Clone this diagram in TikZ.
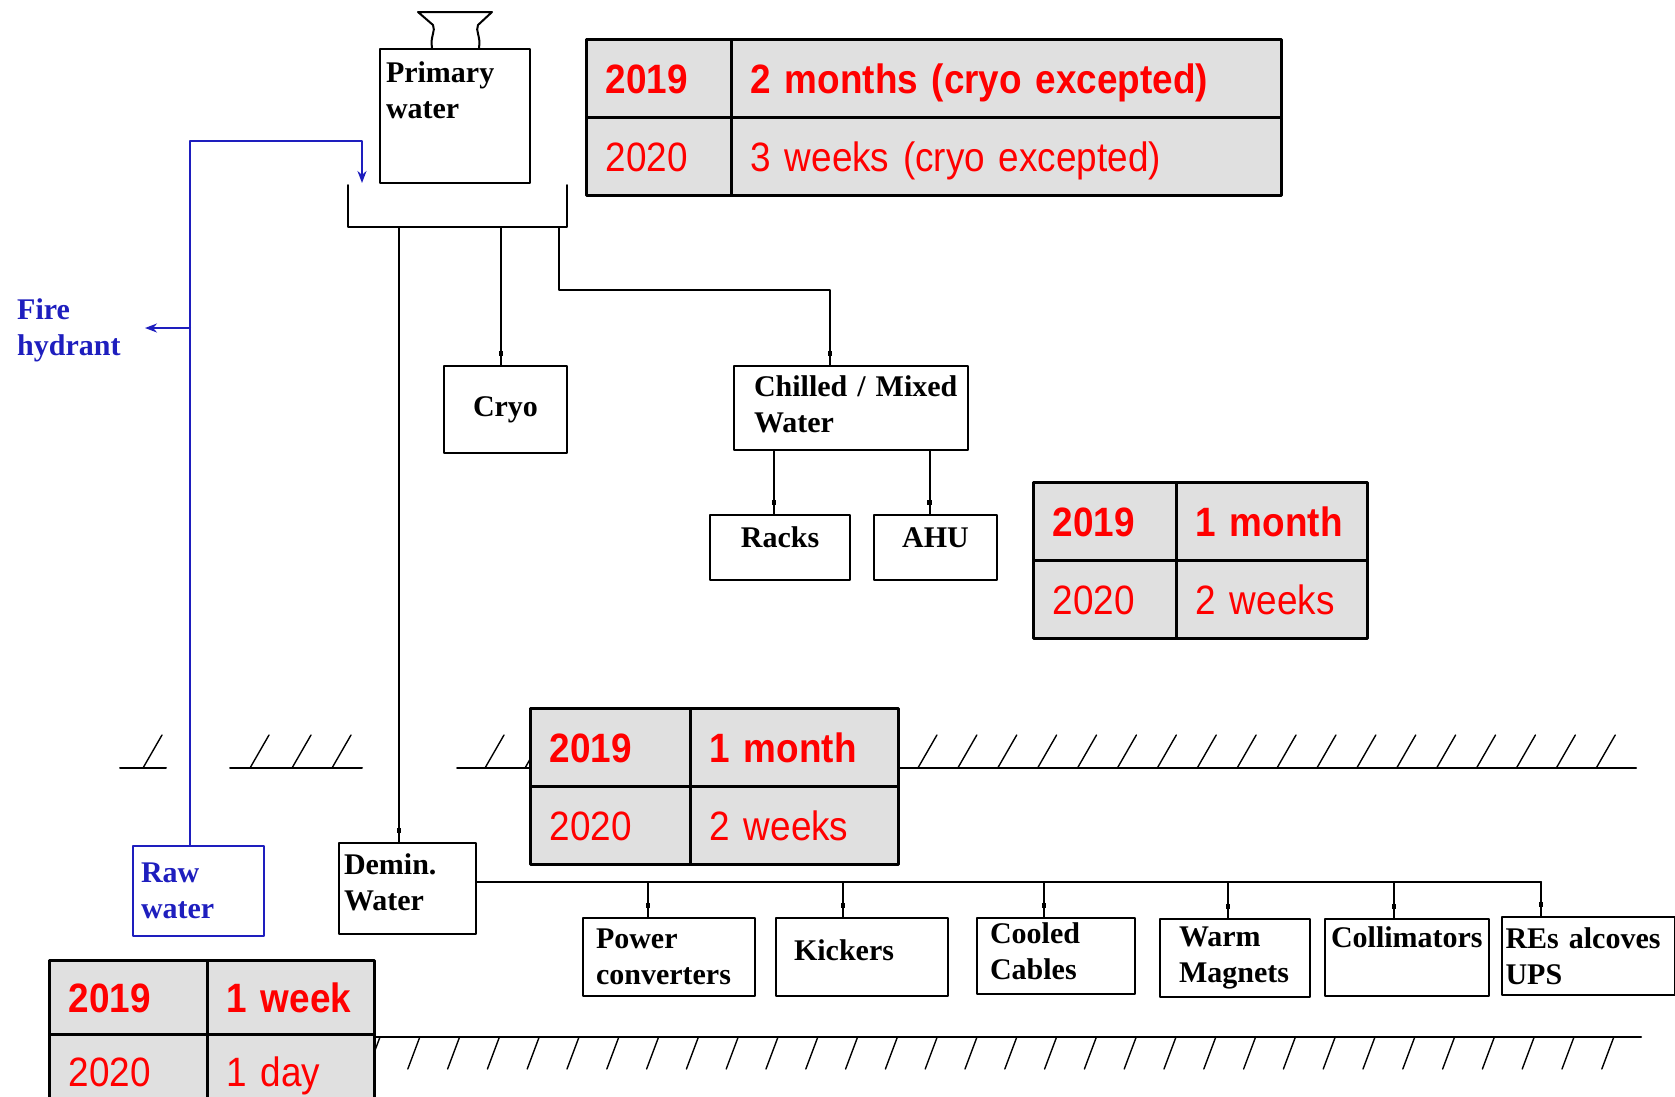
\documentclass[tikz,border=0pt]{standalone}
\usepackage{fontspec}
\setmainfont{Liberation Serif}
\newfontfamily\tabfont{Liberation Sans}[FakeStretch=0.9, WordSpace=0.8]
\usetikzlibrary{matrix,arrows.meta,decorations.markings}
\definecolor{tabgray}{RGB}{224,224,224}
\definecolor{rawblue}{RGB}{30,30,190}
\hyphenpenalty=10000
\newcommand{\boxfont}{\bfseries\fontsize{30}{36}\selectfont}
\newcommand{\durfont}{\tabfont\fontsize{41}{48}\selectfont}
\tikzset{
  unit/.style n args={3}{draw, line width=2pt, anchor=north west, inner ysep=0pt,
    inner xsep=#1, text width=#2, minimum height=#3, align=left, font=\boxfont},
  pipe/.style={line width=2pt, postaction={decorate}, decoration={markings,
    mark=at position -12pt with {\fill (-2.5,-2.2) rectangle (2.5,2.2);}}},
  bluepipe/.style={line width=2pt, draw=rawblue, -{Stealth[length=12pt,width=9pt]}},
  ground/.style={line width=2pt},
  hatch/.style={line width=1.4pt},
  durtab/.style={matrix of nodes, anchor=north west, inner sep=0pt, row sep=-3pt, column sep=-3pt,
    nodes={draw, line width=3pt, fill=tabgray, outer sep=0pt, inner xsep=19pt, inner ysep=0pt,
      minimum height=78pt, text height=30pt, text depth=0pt, text=red, align=left, font=\durfont},
    row 1/.style={nodes={font=\durfont\bfseries}}}
}
\begin{document}
\begin{tikzpicture}[x=1pt, y=-1pt, line join=round, line cap=round]
\useasboundingbox (0,0) rectangle (1675,1096);
\clip (0,0) rectangle (1675,1096);
% ground levels
\draw[ground] (120,768) -- (166,768) (230,768) -- (362,768) (457,768) -- (1636,768);
\foreach \x in {143,250,292,332,485,525}
  \draw[hatch] (\x,768) -- ++(19,-33);
\foreach \k in {0,...,18}
  \draw[hatch] ({878+39.9*\k},768) -- ++(19,-33);
\draw[ground] (373,1037) -- (1641,1037);
\foreach \k in {0,...,31}
  \draw[hatch] ({380+39.8*\k},1037) -- ++(-12,32);

% units
\node[unit={6pt}{138pt}{134pt}, text depth=88pt] (prim) at (379,48) {Primary\\water};
\node[unit={0pt}{123pt}{87pt}, align=center] (cryo) at (443,365) {Cryo};
\node[unit={20pt}{194pt}{84pt}, text depth=44pt] (chill) at (733,365) {Chilled~/~Mixed\\Water};
\node[unit={0pt}{140pt}{65pt}, align=center, text depth=20pt] (racks) at (709,514) {Racks};
\node[unit={0pt}{123pt}{65pt}, align=center, text depth=20pt] (ahu) at (873,514) {AHU};
\node[unit={5pt}{127pt}{91pt}, text depth=48pt] (demin) at (338,842) {Demin.\\Water};
\node[unit={8pt}{115pt}{90pt}, draw=rawblue, text=rawblue] (raw) at (132,845) {Raw\\water};
\node[unit={13pt}{146pt}{78pt}] (pc) at (582,917) {Power\\converters};
\node[unit={18pt}{136pt}{78pt}, text depth=14pt] (kick) at (775,917) {Kickers};
\node[unit={13pt}{132pt}{76pt}, text depth=46pt] (cool) at (976,917) {Cooled\\Cables};
\node[unit={19pt}{112pt}{78pt}] (warm) at (1159,918) {Warm\\Magnets};
\node[unit={6pt}{152pt}{77pt}, text depth=40pt] (coll) at (1324,918) {Collimators};
\node[unit={3.5pt}{166pt}{78pt}] (res) at (1501,916) {REs~alcoves\\UPS};
\node[font=\boxfont, text=rawblue, align=left, anchor=north west, inner sep=0pt] (fire) at (17,298) {Fire\\hydrant};

% tank cap
\draw[line width=2pt] (432,48) .. controls (430,36) and (436,31) .. (433,25) -- (418,12)
  -- (492,12) -- (478,25) .. controls (475,31) and (481,36) .. (479,48);

% primary header and branches
\coordinate (hdrL) at (348,185);
\coordinate (hdrR) at (567,185);
\draw[line width=2pt] (hdrL) -- (348,227) -- (567,227) -- (hdrR);
\coordinate (tapD) at (399,227);
\coordinate (tapK) at (501,227);
\coordinate (tapC) at (559,227);
\coordinate (chillIn) at (830,290);
\draw[pipe] (tapD) -- (tapD |- demin.north);
\draw[pipe] (tapK) -- (tapK |- cryo.north);
\draw[pipe] (tapC) |- (chillIn) -- (chillIn |- chill.north);
\draw[pipe] ([xshift=-6pt]racks.north |- chill.south) -- ([xshift=-6pt]racks.north);
\draw[pipe] ([xshift=-6pt]ahu.north |- chill.south) -- ([xshift=-6pt]ahu.north);

% demin distribution
\coordinate (busEnd) at (1541,882);
\draw[line width=2pt] (demin.east |- busEnd) -- (busEnd);
\foreach \n/\x in {pc/648, kick/843, cool/1044, warm/1228, coll/1394, res/1541}{
  \coordinate (drop) at (\x,882);
  \draw[pipe] (drop) -- (drop |- \n.north);
}

% raw water
\coordinate (rawUp) at (190,141);
\coordinate (rawIn) at (362,141);
\coordinate (inlet) at (362,183);
\coordinate (hydr) at (145,328);
\draw[bluepipe] (raw.north -| rawUp) -- (rawUp) -- (rawIn) -- (inlet);
\draw[bluepipe] (rawUp |- hydr) -- (hydr);

% stop durations
\matrix[durtab, column 1/.style={nodes={text width=107pt}}, column 2/.style={nodes={text width=512pt}}] (tabPrim) at (585,38)
  {2019 & 2 months (cryo excepted)\\ 2020 & 3 weeks (cryo excepted)\\};
\matrix[durtab, column 1/.style={nodes={text width=105pt}}, column 2/.style={nodes={text width=153pt}}] (tabChill) at (1032,481)
  {2019 & 1 month\\ 2020 & 2 weeks\\};
\matrix[durtab, column 1/.style={nodes={text width=122pt}}, column 2/.style={nodes={text width=170pt}}] (tabDemin) at (529,707)
  {2019 & 1 month\\ 2020 & 2 weeks\\};
\matrix[durtab, nodes={minimum height=74pt}, column 1/.style={nodes={text width=120pt}}, column 2/.style={nodes={text width=129pt}}] (tabRaw) at (48,959)
  {2019 & 1 week\\ 2020 & 1 day\\};
\end{tikzpicture}
\end{document}
